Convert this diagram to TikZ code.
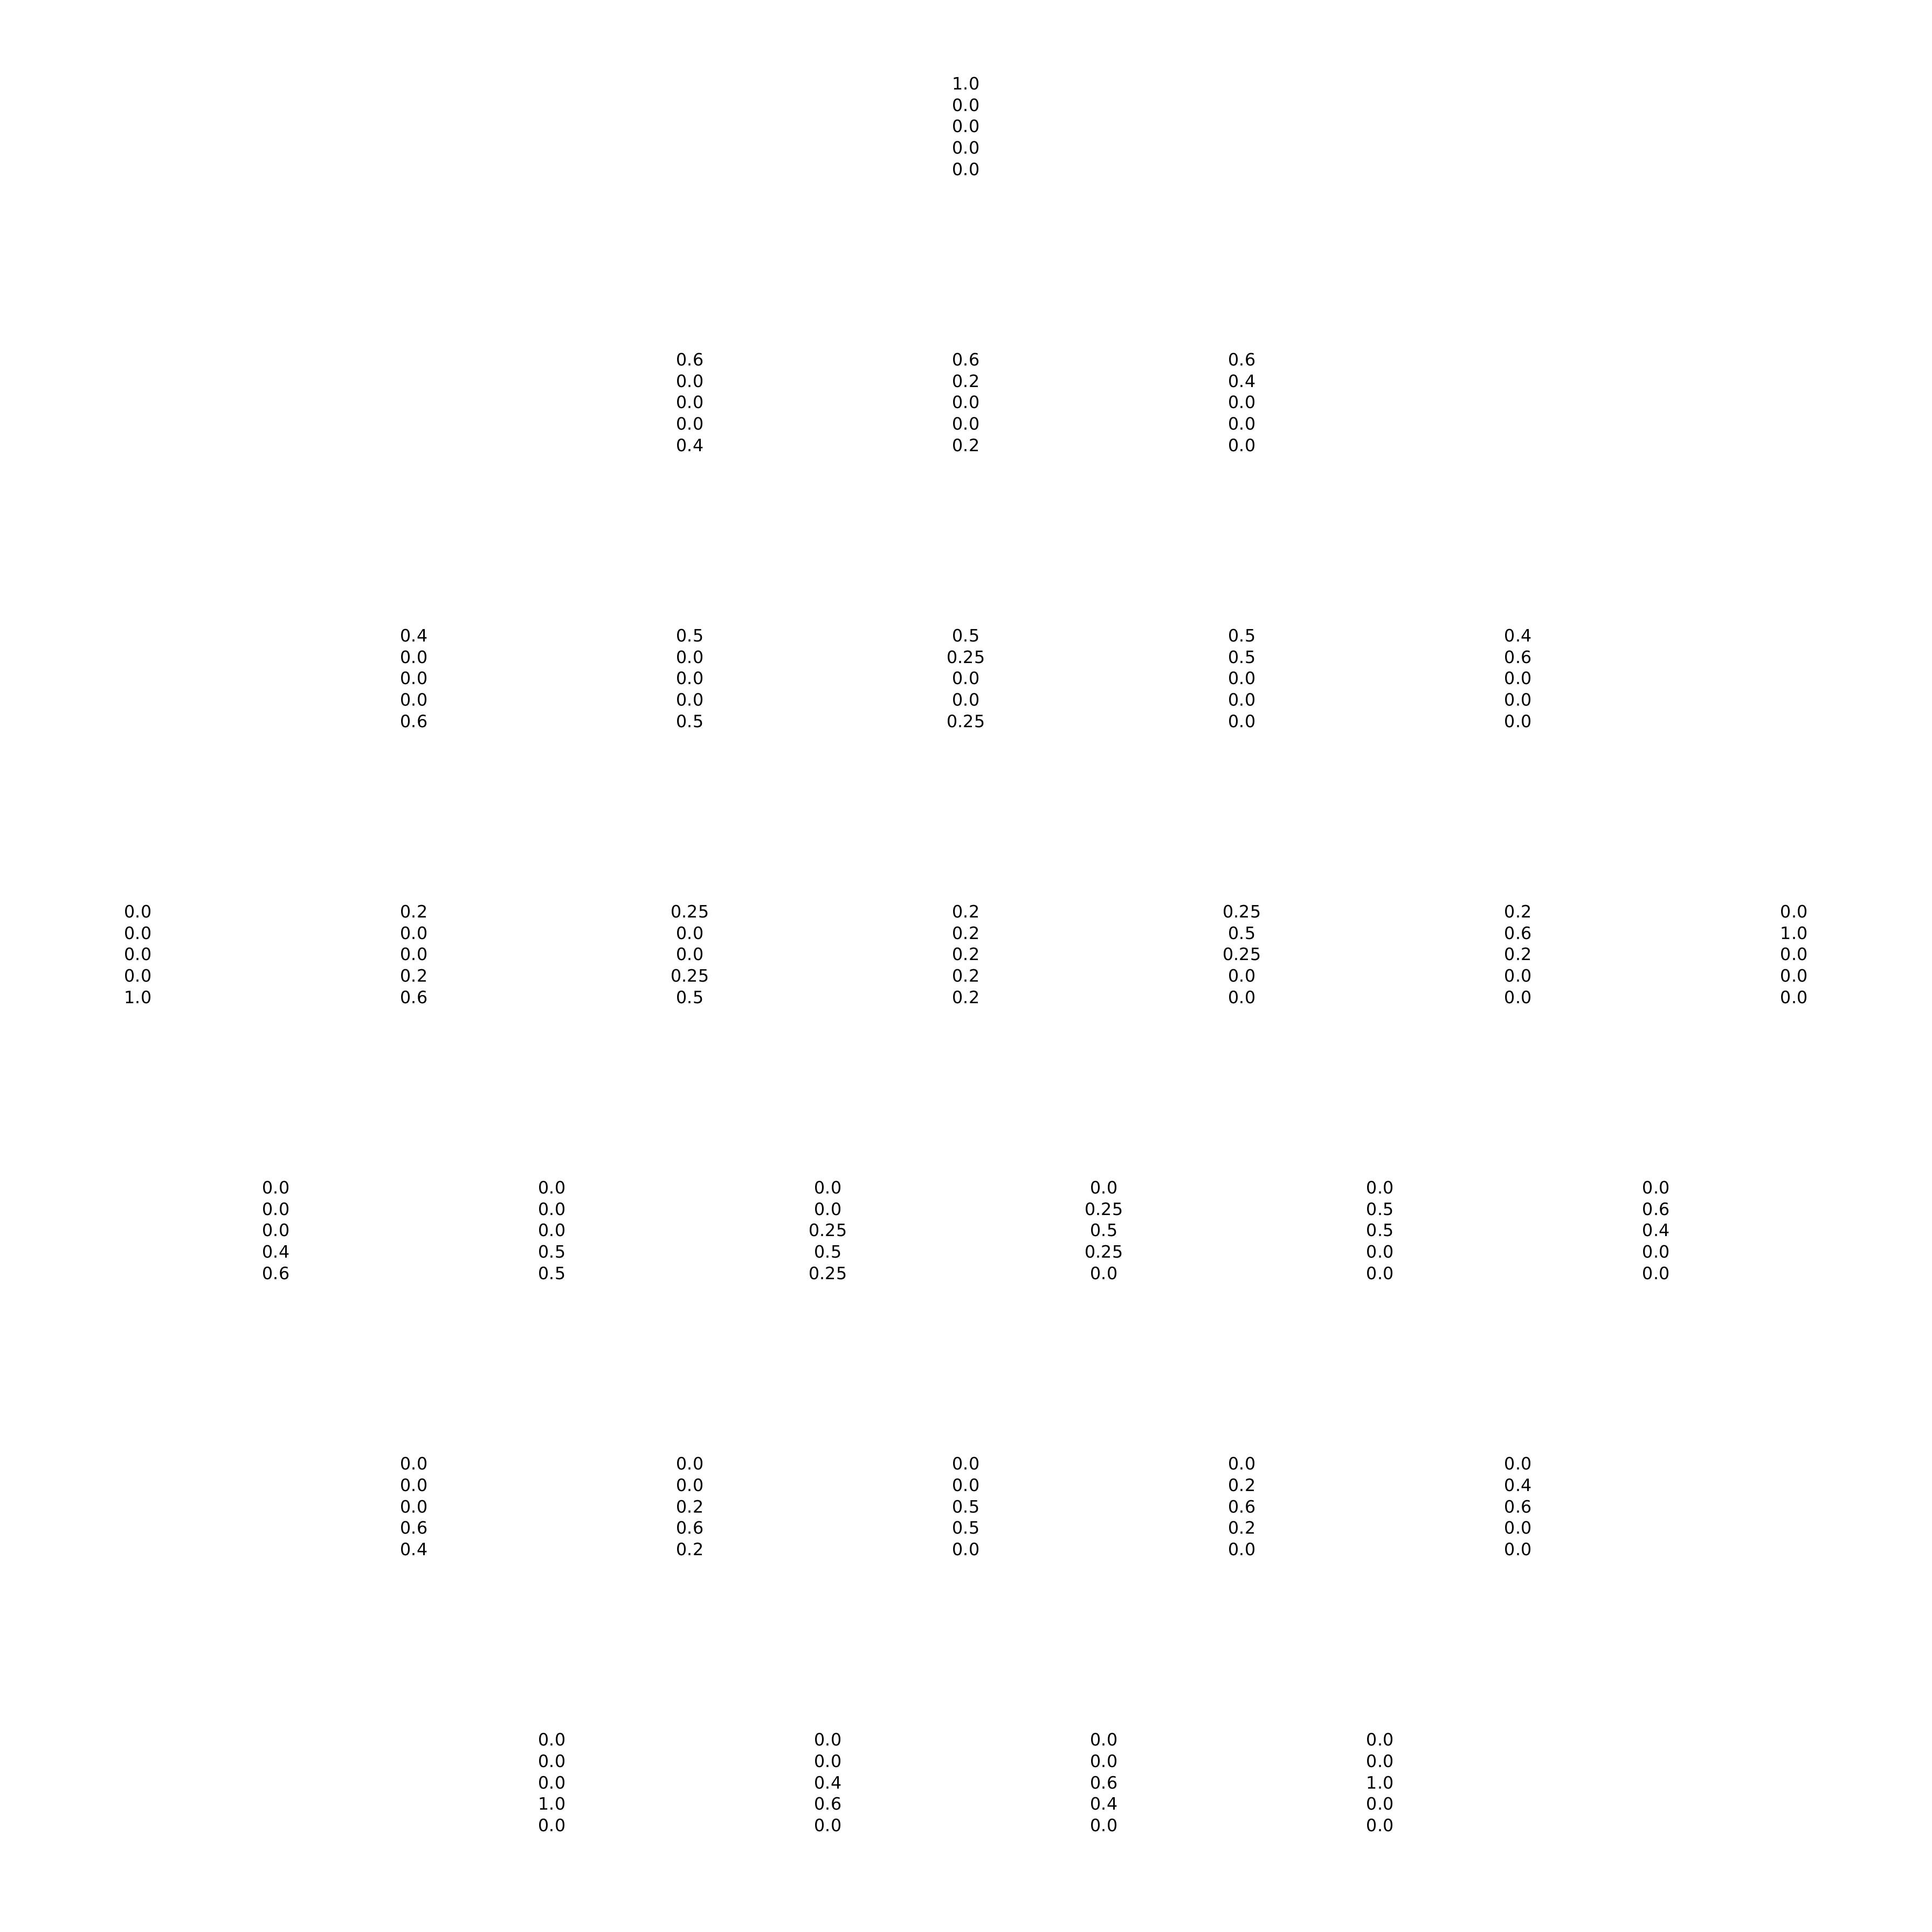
\documentclass[tikz,border=0pt]{standalone}
\usepackage{fontspec}
\setmainfont{DejaVu Sans}
\pgfdeclarelayer{nodelayer}
\pgfsetlayers{nodelayer,main}
\tikzstyle{weights}=[align=center, inner sep=0pt, font=\fontsize{10}{12.6}\selectfont]

\begin{document}
\begin{tikzpicture}[x=2.8448cm, y=2.8448cm]
			\useasboundingbox (0, 0) rectangle (14, 14);
			\begin{pgfonlayer}{nodelayer}
			\node [style=weights] (0) at (7, 13.084) {1.0\\0.0\\0.0\\0.0\\0.0};
			\node [style=weights] (1) at (5, 11.084) {0.6\\0.0\\0.0\\0.0\\0.4};
			\node [style=weights] (2) at (7, 11.084) {0.6\\0.2\\0.0\\0.0\\0.2};
			\node [style=weights] (3) at (9, 11.084) {0.6\\0.4\\0.0\\0.0\\0.0};
			\node [style=weights] (4) at (3, 9.084) {0.4\\0.0\\0.0\\0.0\\0.6};
			\node [style=weights] (5) at (5, 9.084) {0.5\\0.0\\0.0\\0.0\\0.5};
			\node [style=weights] (6) at (7, 9.084) {0.5\\0.25\\0.0\\0.0\\0.25};
			\node [style=weights] (7) at (9, 9.084) {0.5\\0.5\\0.0\\0.0\\0.0};
			\node [style=weights] (8) at (11, 9.084) {0.4\\0.6\\0.0\\0.0\\0.0};
			\node [style=weights] (9) at (1, 7.084) {0.0\\0.0\\0.0\\0.0\\1.0};
			\node [style=weights] (10) at (3, 7.084) {0.2\\0.0\\0.0\\0.2\\0.6};
			\node [style=weights] (11) at (5, 7.084) {0.25\\0.0\\0.0\\0.25\\0.5};
			\node [style=weights] (12) at (7, 7.084) {0.2\\0.2\\0.2\\0.2\\0.2};
			\node [style=weights] (13) at (9, 7.084) {0.25\\0.5\\0.25\\0.0\\0.0};
			\node [style=weights] (14) at (11, 7.084) {0.2\\0.6\\0.2\\0.0\\0.0};
			\node [style=weights] (15) at (13, 7.084) {0.0\\1.0\\0.0\\0.0\\0.0};
			\node [style=weights] (16) at (2, 5.084) {0.0\\0.0\\0.0\\0.4\\0.6};
			\node [style=weights] (17) at (4, 5.084) {0.0\\0.0\\0.0\\0.5\\0.5};
			\node [style=weights] (18) at (6, 5.084) {0.0\\0.0\\0.25\\0.5\\0.25};
			\node [style=weights] (19) at (8, 5.084) {0.0\\0.25\\0.5\\0.25\\0.0};
			\node [style=weights] (20) at (10, 5.084) {0.0\\0.5\\0.5\\0.0\\0.0};
			\node [style=weights] (21) at (12, 5.084) {0.0\\0.6\\0.4\\0.0\\0.0};
			\node [style=weights] (22) at (3, 3.084) {0.0\\0.0\\0.0\\0.6\\0.4};
			\node [style=weights] (23) at (5, 3.084) {0.0\\0.0\\0.2\\0.6\\0.2};
			\node [style=weights] (24) at (7, 3.084) {0.0\\0.0\\0.5\\0.5\\0.0};
			\node [style=weights] (25) at (9, 3.084) {0.0\\0.2\\0.6\\0.2\\0.0};
			\node [style=weights] (26) at (11, 3.084) {0.0\\0.4\\0.6\\0.0\\0.0};
			\node [style=weights] (27) at (4, 1.084) {0.0\\0.0\\0.0\\1.0\\0.0};
			\node [style=weights] (28) at (6, 1.084) {0.0\\0.0\\0.4\\0.6\\0.0};
			\node [style=weights] (29) at (8, 1.084) {0.0\\0.0\\0.6\\0.4\\0.0};
			\node [style=weights] (30) at (10, 1.084) {0.0\\0.0\\1.0\\0.0\\0.0};
			\end{pgfonlayer}
\end{tikzpicture}
\end{document}
